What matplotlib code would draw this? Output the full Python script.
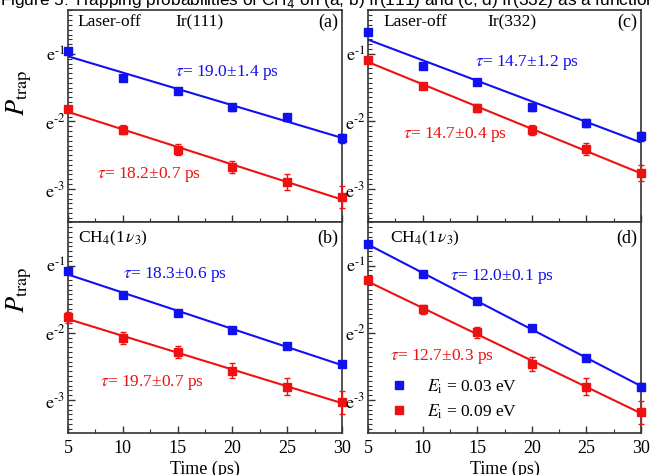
import numpy as np
import matplotlib
matplotlib.use("Agg")
import matplotlib.pyplot as plt
from matplotlib.ticker import FixedLocator, NullFormatter, MultipleLocator
from matplotlib.lines import Line2D

plt.rcParams['font.family'] = ['Liberation Serif', 'DejaVu Serif']
plt.rcParams['mathtext.fontset'] = 'stix'
plt.rcParams['axes.unicode_minus'] = False

# time delays (ps)
time = [5, 10, 15, 20, 25, 30]

# ln(P_trap), plus error bar half-widths (ln units)
a_blue = [-0.96, -1.35, -1.55, -1.79, -1.94, -2.25]
a_blue_err = [0.03, 0.03, 0.04, 0.05, 0.05, 0.07]
a_red = [-1.82, -2.12, -2.42, -2.67, -2.90, -3.12]
a_red_err = [0.03, 0.07, 0.08, 0.09, 0.12, 0.16]

c_blue = [-0.67, -1.185, -1.41, -1.79, -2.03, -2.22]
c_blue_err = [0.03, 0.02, 0.03, 0.05, 0.06, 0.07]
c_red = [-1.09, -1.47, -1.80, -2.13, -2.41, -2.77]
c_red_err = [0.03, 0.04, 0.06, 0.07, 0.09, 0.12]

b_blue = [-1.085, -1.43, -1.70, -1.96, -2.20, -2.46]
b_blue_err = [0.02, 0.03, 0.03, 0.03, 0.03, 0.04]
b_red = [-1.77, -2.07, -2.29, -2.56, -2.80, -3.03]
b_red_err = [0.08, 0.09, 0.09, 0.11, 0.13, 0.17]

d_blue = [-0.68, -1.12, -1.53, -1.93, -2.37, -2.80]
d_blue_err = [0.02, 0.02, 0.02, 0.02, 0.03, 0.05]
d_red = [-1.22, -1.65, -1.99, -2.46, -2.80, -3.18]
d_red_err = [0.03, 0.07, 0.08, 0.10, 0.13, 0.17]

ytick_powers = [-1, -2, -3]
tau_labels = {
    'a': ('19.0±1.4', '18.2±0.7'),
    'c': ('14.7±1.2', '14.7±0.4'),
    'b': ('18.3±0.6', '19.7±0.7'),
    'd': ('12.0±0.1', '12.7±0.3'),
}
legend_labels = ['$E_{\\mathrm{i}}$ = 0.03 eV', '$E_{\\mathrm{i}}$ = 0.09 eV']
caption = 'Figure 5: Trapping probabilities of CH$_4$ on (a, b) Ir(111) and (c, d) Ir(332) as a function'

BLUE = '#1010f0'
RED = '#ee1111'
SPINE = '#333333'

W, H = 650, 475
fig = plt.figure(figsize=(W / 100, H / 100), dpi=100)


def px_axes(x0, y0, x1, y1):
    return fig.add_axes([x0 / W, 1 - y1 / H, (x1 - x0) / W, (y1 - y0) / H])


def plot_series(ax, ln_vals, ln_err, color):
    t = np.array(time, dtype=float)
    ln_vals = np.array(ln_vals)
    ln_err = np.array(ln_err)
    p = np.exp(ln_vals)
    lo = p - np.exp(ln_vals - ln_err)
    hi = np.exp(ln_vals + ln_err) - p
    # single-exponential fit, as in the original figure
    slope, icpt = np.polyfit(t, ln_vals, 1)
    tt = np.array([5.0, 30.0])
    ax.plot(tt, np.exp(icpt + slope * tt), color=color, lw=1.5, zorder=2)
    ax.errorbar(t, p, yerr=[lo, hi], fmt='s', color=color, ms=5.5, capsize=2.5,
                elinewidth=1.0, capthick=1.0, zorder=3, clip_on=False)


def style_axes(ax, show_x):
    ax.set_yscale('log', base=np.e)
    ax.set_xlim(5, 30)
    ax.set_ylim(np.exp(-3.49), np.exp(-0.35))
    ax.yaxis.set_major_locator(FixedLocator(np.exp(ytick_powers)))
    # plain hyphen in the exponent, like the original
    ax.set_yticklabels(['$\\mathrm{e}^{\\text{-%d}}$' % abs(n) for n in ytick_powers])
    minors = np.exp(np.arange(-3.5, -0.3, 1 / 14.0))
    ax.yaxis.set_minor_locator(FixedLocator(minors))
    ax.yaxis.set_minor_formatter(NullFormatter())
    ax.xaxis.set_major_locator(MultipleLocator(5))
    ax.xaxis.set_minor_locator(MultipleLocator(2.5))
    ax.tick_params(which='both', direction='in', top=False, right=False,
                   color=SPINE, labelsize=13)
    ax.tick_params(which='major', length=5, width=1.0)
    ax.tick_params(which='minor', length=3, width=0.8)
    ax.tick_params(axis='y', which='major', pad=2)
    ax.tick_params(axis='x', labelbottom=show_x, pad=5)
    for s in ax.spines.values():
        s.set_color(SPINE)
        s.set_linewidth(1.2)
    if show_x:
        ax.set_xlabel('Time (ps)', fontsize=13, labelpad=3)


def tau_text(x_px, y_px, label, color):
    fig.text(x_px / W, 1 - y_px / H, '$\\tau$= ' + label + ' ps',
             color=color, fontsize=12.5, va='center', ha='left')


def fig_text(x_px, y_px, s, ha='left', size=12.5):
    fig.text(x_px / W, 1 - y_px / H, s, ha=ha, va='center', fontsize=size)


ax_a = px_axes(68, 10, 342, 222)
ax_c = px_axes(368, 10, 641, 222)
ax_b = px_axes(68, 222, 342, 433)
ax_d = px_axes(368, 222, 641, 433)

plot_series(ax_a, a_blue, a_blue_err, BLUE)
plot_series(ax_a, a_red, a_red_err, RED)
plot_series(ax_c, c_blue, c_blue_err, BLUE)
plot_series(ax_c, c_red, c_red_err, RED)
plot_series(ax_b, b_blue, b_blue_err, BLUE)
plot_series(ax_b, b_red, b_red_err, RED)
plot_series(ax_d, d_blue, d_blue_err, BLUE)
plot_series(ax_d, d_red, d_red_err, RED)

style_axes(ax_a, False)
style_axes(ax_c, False)
style_axes(ax_b, True)
style_axes(ax_d, True)

# y labels sit above the panel middle in the original
ax_a.set_ylabel('$P_{\\mathrm{trap}}$', fontsize=19)
ax_a.yaxis.set_label_coords(-0.125, 0.61)
ax_b.set_ylabel('$P_{\\mathrm{trap}}$', fontsize=19)
ax_b.yaxis.set_label_coords(-0.125, 0.68)

# panel annotations
fig_text(77, 22, 'Laser-off')
fig_text(175, 22, 'Ir(111)')
fig_text(338, 22, '(a)', ha='right', size=13)
fig_text(383, 22, 'Laser-off')
fig_text(487, 22, 'Ir(332)')
fig_text(637, 22, '(c)', ha='right', size=13)
fig_text(78, 238, 'CH$_4$(1$\\,\\nu_3$)')
fig_text(338, 238, '(b)', ha='right', size=13)
fig_text(390, 238, 'CH$_4$(1$\\,\\nu_3$)')
fig_text(637, 238, '(d)', ha='right', size=13)

tau_text(175, 72, tau_labels['a'][0], BLUE)
tau_text(97, 175, tau_labels['a'][1], RED)
tau_text(475, 63, tau_labels['c'][0], BLUE)
tau_text(403, 135, tau_labels['c'][1], RED)
tau_text(123, 275, tau_labels['b'][0], BLUE)
tau_text(100, 382, tau_labels['b'][1], RED)
tau_text(450, 276, tau_labels['d'][0], BLUE)
tau_text(390, 356, tau_labels['d'][1], RED)

handles = [Line2D([], [], ls='none', marker='s', ms=5.5, color=BLUE),
           Line2D([], [], ls='none', marker='s', ms=5.5, color=RED)]
ax_d.legend(handles, legend_labels, loc='lower left', bbox_to_anchor=(0.03, 0.0),
            frameon=False, fontsize=12.5, handlelength=1.2, handletextpad=1.0,
            labelspacing=0.4, borderpad=0.2)

# caption strip from the page, cut off at the top
fig.text(0.0, 1 - 5 / H, caption,
         family=['Liberation Sans', 'DejaVu Sans'], fontsize=12.4, ha='left', va='baseline',
         math_fontfamily='dejavusans')

fig.savefig('out.png', dpi=100)
